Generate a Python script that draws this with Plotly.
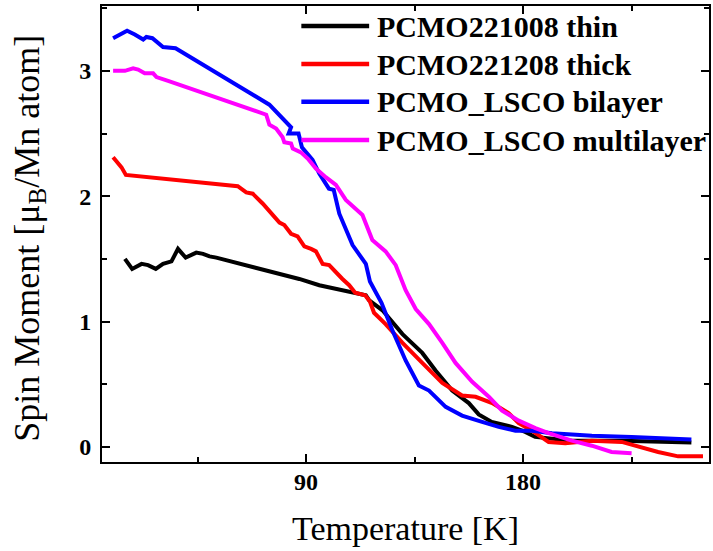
import plotly.graph_objects as go

# ---- data ----
thin_T = [14.9, 17.9, 21.8, 24.5, 27.7, 30.7, 34.2, 36.9, 40.1, 44.5, 47.3, 50.0, 52.8,
          87.2, 95.5, 107.9, 114.8, 116.2, 121.7, 123.0, 130.0, 138.2, 143.7, 150.6, 157.5,
          161.6, 167.0, 175.4, 180.9, 185.0, 200.2, 220.9, 241.5, 249.8]
thin_M = [1.50, 1.42, 1.46, 1.45, 1.42, 1.46, 1.48, 1.58, 1.51, 1.55, 1.54, 1.52, 1.51,
          1.34, 1.29, 1.24, 1.21, 1.17, 1.09, 1.06, 0.90, 0.75, 0.61, 0.45, 0.35,
          0.26, 0.20, 0.16, 0.12, 0.08, 0.05, 0.05, 0.04, 0.035]

thick_T = [10.0, 13.5, 15.3, 61.7, 65.2, 67.9, 72.1, 74.8, 79.0, 81.0, 83.8, 86.5, 89.3,
           92.1, 94.1, 96.9, 99.6, 105.1, 107.9, 110.4, 114.5, 116.5, 118.2, 123.0, 130.0,
           138.2, 146.5, 154.7, 160.3, 167.2, 174.0, 178.2, 183.7, 190.6, 197.5, 208.5,
           220.9, 236.0, 244.3, 254.6]
thick_M = [2.31, 2.23, 2.17, 2.08, 2.03, 2.02, 1.94, 1.88, 1.79, 1.77, 1.70, 1.68, 1.60,
           1.58, 1.56, 1.46, 1.45, 1.34, 1.29, 1.23, 1.21, 1.16, 1.07, 0.98, 0.83,
           0.67, 0.51, 0.41, 0.40, 0.35, 0.27, 0.19, 0.13, 0.04, 0.03, 0.05,
           0.04, -0.04, -0.075, -0.075]

bi_T = [10.0, 15.8, 19.0, 22.5, 23.8, 26.3, 30.7, 35.9, 74.8, 79.7, 83.8, 82.8, 86.9, 88.3,
        92.7, 95.5, 99.5, 101.5, 103.8, 109.3, 114.8, 116.5, 121.3, 125.8, 131.3, 136.8,
        141.0, 147.9, 154.7, 163.0, 169.9, 176.8, 183.7, 192.0, 208.5, 225.0, 236.0, 249.8]
bi_M = [3.26, 3.32, 3.29, 3.25, 3.27, 3.26, 3.19, 3.18, 2.73, 2.63, 2.55, 2.50, 2.50, 2.39,
        2.29, 2.18, 2.06, 2.05, 1.86, 1.61, 1.46, 1.32, 1.15, 0.93, 0.69, 0.49,
        0.45, 0.32, 0.25, 0.20, 0.16, 0.13, 0.13, 0.11, 0.09, 0.08, 0.07, 0.06]

multi_T = [10.0, 14.9, 18.3, 20.4, 23.1, 26.6, 28.0, 32.8, 73.5, 74.8, 77.6, 80.3, 81.0,
           83.8, 84.5, 87.9, 90.7, 94.1, 98.3, 102.4, 106.5, 113.4, 117.5, 123.0, 127.2,
           131.3, 135.5, 141.0, 146.5, 152.0, 158.9, 165.8, 171.3, 178.2, 185.1, 190.6,
           200.2, 208.5, 216.7, 225.0]
multi_M = [3.00, 3.00, 3.02, 3.01, 2.98, 2.98, 2.95, 2.92, 2.65, 2.57, 2.54, 2.47, 2.43,
           2.42, 2.38, 2.35, 2.30, 2.22, 2.15, 2.09, 1.97, 1.85, 1.65, 1.56, 1.45,
           1.25, 1.10, 0.98, 0.83, 0.67, 0.52, 0.40, 0.29, 0.21, 0.15, 0.11,
           0.05, 0.01, -0.04, -0.05]

series_names = ["PCMO221008 thin", "PCMO221208 thick", "PCMO_LSCO bilayer", "PCMO_LSCO multilayer"]
series_colors = ["#000000", "#ff0000", "#0000ff", "#ff00ff"]
series_T = [thin_T, thick_T, bi_T, multi_T]
series_M = [thin_M, thick_M, bi_M, multi_M]

x_ticks = [90, 180]
y_ticks = [0, 1, 2, 3]

FONT = "Liberation Serif"

fig = go.Figure()
for name, col, T, M in zip(series_names, series_colors, series_T, series_M):
    fig.add_trace(go.Scatter(x=T, y=M, mode="lines", name=name, showlegend=False,
                             line=dict(color=col, width=4)))

# manual legend (long line samples as in the reference)
leg_y = [0.9561, 0.8728, 0.7901, 0.7061]
for name, col, yy in zip(series_names, series_colors, leg_y):
    fig.add_shape(type="line", xref="paper", yref="paper", x0=0.3284, x1=0.4401,
                  y0=yy, y1=yy, line=dict(color=col, width=4.5))
    fig.add_annotation(xref="paper", yref="paper", x=0.450, y=yy, xanchor="left",
                       yanchor="middle", text=name, showarrow=False,
                       font=dict(family=FONT, size=30, color="black", weight="bold"))

# y-axis title as rotated annotation
fig.add_annotation(xref="paper", yref="paper", x=-0.1199, y=0.49, xanchor="center",
                   yanchor="middle", textangle=-90, showarrow=False,
                   text="Spin Moment [\u03bc<sub>B</sub>/Mn atom]",
                   font=dict(family=FONT, size=36, color="black"))

axis_common = dict(showline=True, linecolor="black", linewidth=2, mirror="ticks",
                   ticks="inside", tickcolor="black", tickwidth=2, ticklen=8,
                   showgrid=False, zeroline=False,
                   tickfont=dict(family=FONT, size=24, color="black", weight="bold"))

fig.update_xaxes(range=[5.4, 257.1], tickvals=x_ticks, ticktext=[str(v) for v in x_ticks],
                 minor=dict(dtick=45, tick0=0, ticks="inside", ticklen=5, tickwidth=2,
                            tickcolor="black"),
                 ticklabelstandoff=-3,
                 title=dict(text="Temperature [K]", font=dict(family=FONT, size=34, color="black"),
                            standoff=22),
                 **axis_common)
fig.update_yaxes(range=[-0.12, 3.517], tickvals=y_ticks, ticktext=[str(v) for v in y_ticks],
                 minor=dict(dtick=0.5, tick0=0, ticks="inside", ticklen=5, tickwidth=2,
                            tickcolor="black"),
                 ticklabelstandoff=4,
                 **axis_common)

fig.update_layout(width=713, height=551, margin=dict(l=102, r=2, t=6, b=89),
                  paper_bgcolor="white", plot_bgcolor="white")

fig.write_html("out.html")
